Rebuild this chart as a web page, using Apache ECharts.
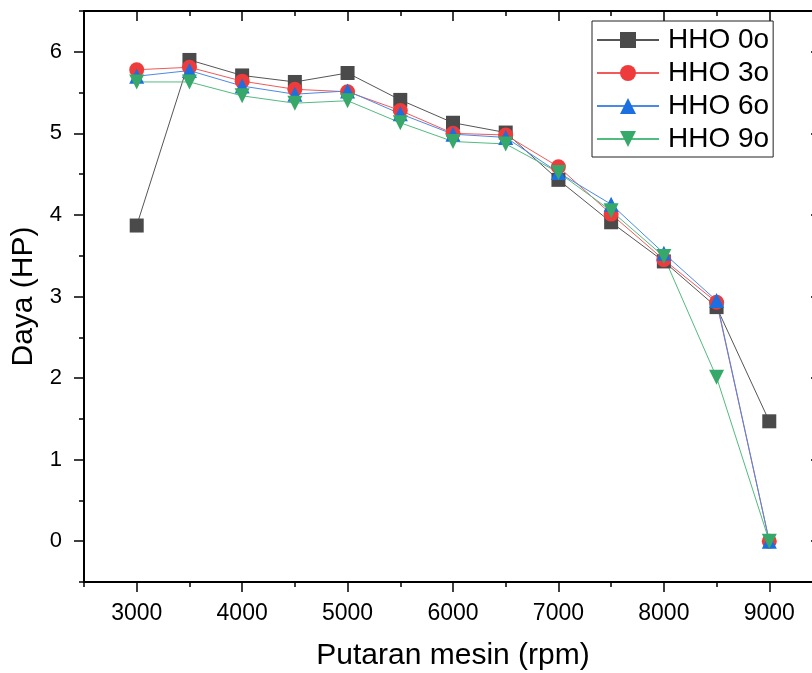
<!DOCTYPE html>
<html>
<head>
<meta charset="utf-8">
<script src="https://cdn.jsdelivr.net/npm/echarts@6/dist/echarts.min.js"></script>
<style>
  html, body { margin: 0; padding: 0; background: #fff; }
  #chart { width: 812px; height: 673px; }
</style>
</head>
<body>
<div id="chart"></div>
<script>
// engine speed (rpm)
const rpm = [3000, 3500, 4000, 4500, 5000, 5500, 6000, 6500, 7000, 7500, 8000, 8500, 9000];
// power (HP) per HHO setting
const hho0 = [3.87, 5.90, 5.71, 5.63, 5.74, 5.41, 5.13, 5.01, 4.43, 3.91, 3.43, 2.87, 1.47];
const hho3 = [5.78, 5.81, 5.64, 5.54, 5.51, 5.28, 5.00, 4.98, 4.59, 4.01, 3.45, 2.93, 0];
const hho6 = [5.70, 5.77, 5.58, 5.48, 5.52, 5.24, 4.99, 4.95, 4.52, 4.13, 3.53, 2.95, 0];
const hho9 = [5.63, 5.63, 5.46, 5.37, 5.40, 5.13, 4.90, 4.87, 4.52, 4.05, 3.49, 2.01, 0];
const seriesNames = ['HHO 0o', 'HHO 3o', 'HHO 6o', 'HHO 9o'];
// tick positions
const xMajor = [3000, 4000, 5000, 6000, 7000, 8000, 9000];
const xMinor = [2500, 3500, 4500, 5500, 6500, 7500, 8500, 9500];
const yMajor = [0, 1, 2, 3, 4, 5, 6];
const yMinor = [-0.5, 0.5, 1.5, 2.5, 3.5, 4.5, 5.5, 6.5];

const font = 'Arial, "Liberation Sans", sans-serif';
const chart = echarts.init(document.getElementById('chart'));

const pts = arr => rpm.map((x, i) => [x, arr[i]]);

const xRange = { type: 'value', min: 2500, max: 9500, interval: 500, splitLine: { show: false } };
const yRange = { type: 'value', min: -0.5, max: 6.5, interval: 0.5, splitLine: { show: false } };
const tickStyle = { color: '#000', width: 1.5 };

// one axis layer per tick set (long majors, short minors)
const xLayer = (pos, values, len, inside, withLine) => Object.assign({}, xRange, {
  position: pos,
  axisLine: { show: withLine, onZero: false, lineStyle: { color: '#000', width: 2 } },
  axisTick: { show: true, inside: inside, length: len, customValues: values, lineStyle: tickStyle },
  axisLabel: { show: false }
});
const yLayer = (pos, values, len, inside, withLine) => Object.assign({}, yRange, {
  position: pos,
  axisLine: { show: withLine, onZero: false, lineStyle: { color: '#000', width: 2 } },
  axisTick: { show: true, inside: inside, length: len, customValues: values, lineStyle: tickStyle },
  axisLabel: { show: false }
});

const makeSeries = (name, arr, color, lineColor, symbol, size, rotate) => ({
  name: name,
  type: 'line',
  data: pts(arr),
  symbol: symbol,
  symbolSize: size,
  symbolRotate: rotate || 0,
  itemStyle: { color: color },
  lineStyle: { color: lineColor, width: 1 },
  emphasis: { disabled: true },
  animation: false
});

const xMain = xLayer('bottom', xMajor, 10, false, true);
xMain.name = 'Putaran mesin (rpm)';
xMain.nameLocation = 'middle';
xMain.nameGap = 59;
xMain.nameTextStyle = { fontFamily: font, fontSize: 30, color: '#000' };
xMain.axisLabel = {
  show: true, customValues: xMajor, margin: 20, fontSize: 23, color: '#000', fontFamily: font,
  formatter: v => String(v)
};

const yMain = yLayer('left', yMajor, 10, false, true);
yMain.name = 'Daya (HP)';
yMain.nameLocation = 'middle';
yMain.nameGap = 40;
yMain.nameTextStyle = { fontFamily: font, fontSize: 30, color: '#000' };
yMain.axisLabel = {
  show: true, customValues: yMajor, margin: 22, fontSize: 22, color: '#000', fontFamily: font,
  formatter: v => String(v)
};

const option = {
  backgroundColor: '#fff',
  textStyle: { fontFamily: font },
  grid: { left: 84, top: 11, width: 738, height: 571, outerBoundsMode: 'none', containLabel: false },
  legend: {
    data: seriesNames,
    orient: 'vertical',
    left: 592,
    top: 21,
    padding: [5, 4, 4, 4],
    itemWidth: 62,
    itemHeight: 20,
    itemGap: 5,
    borderColor: '#222',
    borderWidth: 1,
    textStyle: { fontFamily: font, fontSize: 28, color: '#000', padding: [0, 0, 0, 4] }
  },
  xAxis: [
    xMain,
    xLayer('bottom', xMinor, 5, false, false),
    xLayer('top', xMajor, 10, true, true),
    xLayer('top', xMinor, 5, true, false)
  ],
  yAxis: [
    yMain,
    yLayer('left', yMinor, 5, false, false),
    yLayer('right', yMajor, 11, true, true),
    yLayer('right', yMinor, 5, true, false)
  ],
  series: [
    makeSeries(seriesNames[0], hho0, '#4a4a4a', '#555555', 'rect', 14),
    makeSeries(seriesNames[1], hho3, '#ee3b3b', '#f05a5a', 'circle', 15),
    makeSeries(seriesNames[2], hho6, '#1b6fe0', '#4a8ae6', 'triangle', 15),
    makeSeries(seriesNames[3], hho9, '#36a96a', '#52bb7f', 'triangle', 15, 180)
  ]
};

chart.setOption(option);
</script>
</body>
</html>
